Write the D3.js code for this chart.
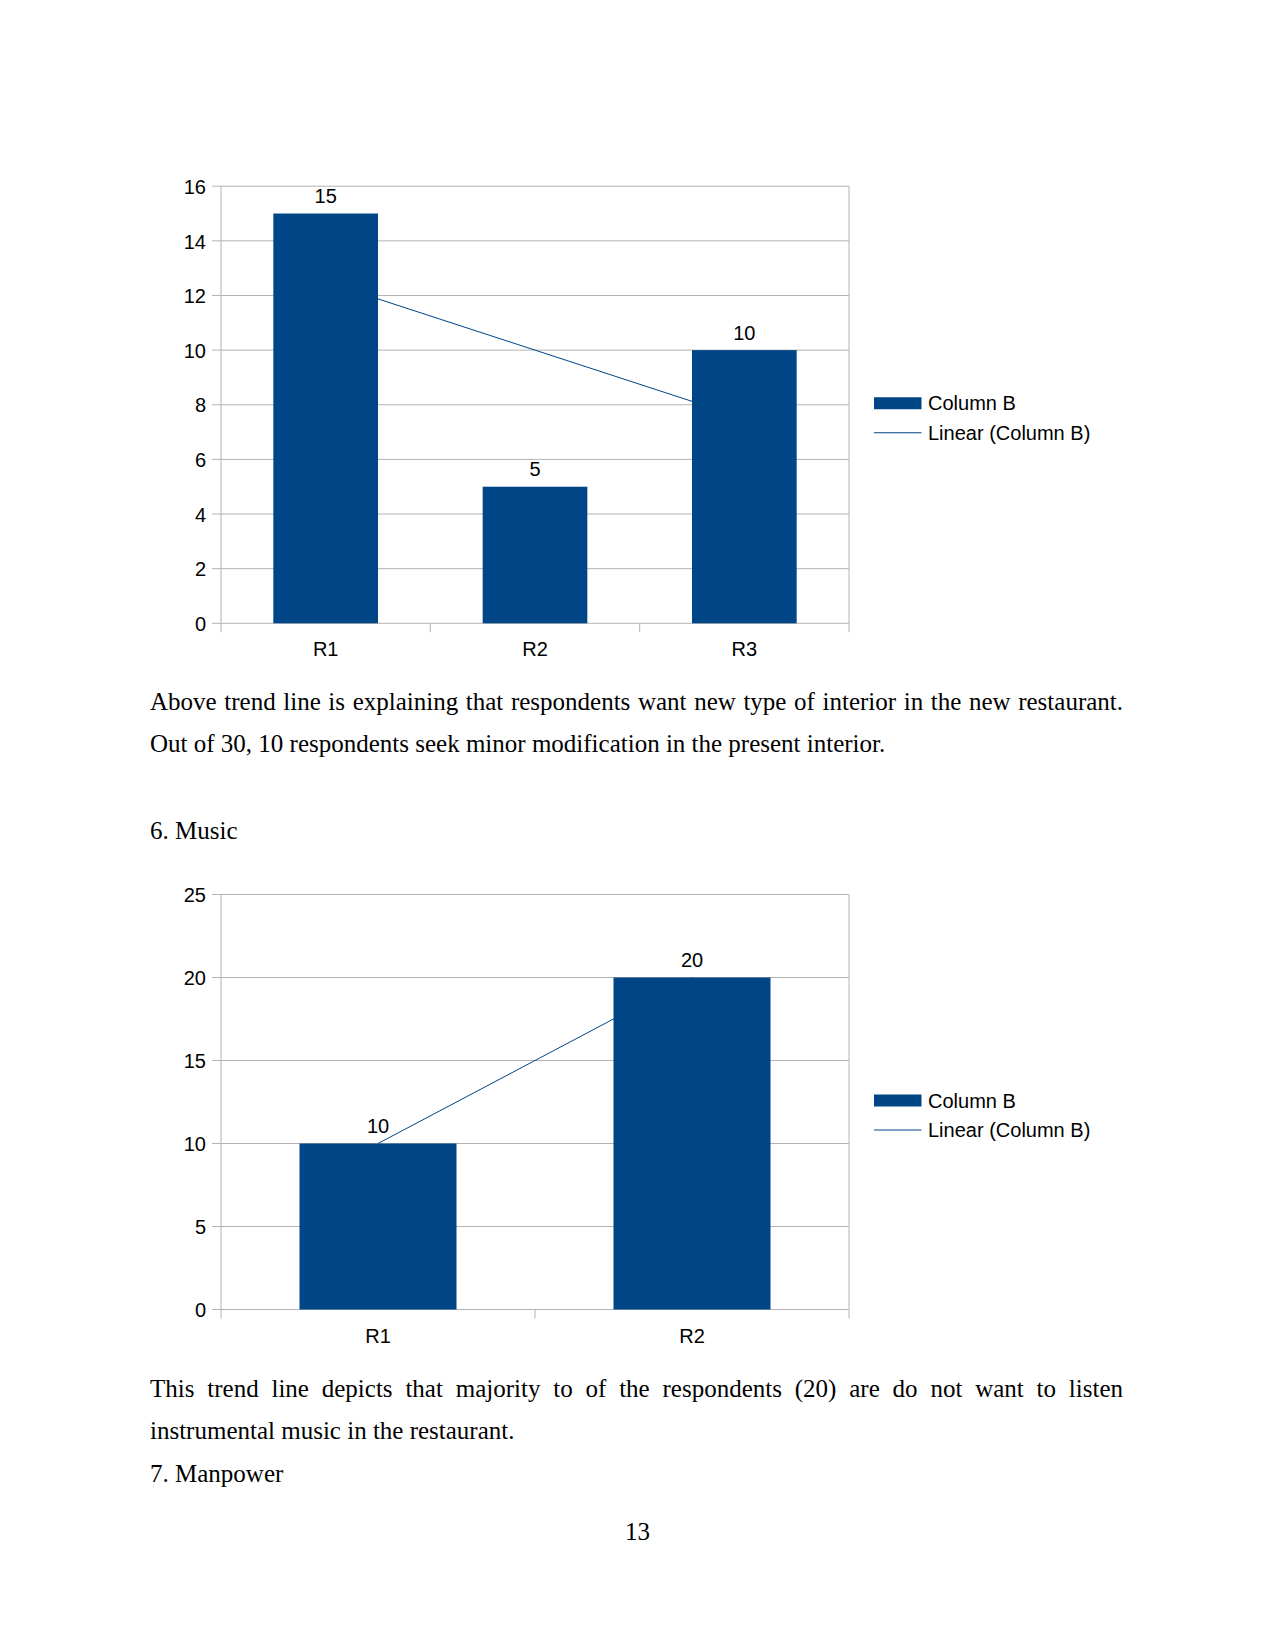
<!DOCTYPE html>
<html><head><meta charset="utf-8">
<script src="https://cdn.jsdelivr.net/npm/d3@7"></script>
<style>body{margin:0;background:#fff}</style>
</head><body>
<svg id="page" width="1275" height="1650"></svg>
<script>
// ---- data ----
const chart1Categories = ["R1", "R2", "R3"];
const chart1Values = [15, 5, 10];
const chart1Ticks = [0, 2, 4, 6, 8, 10, 12, 14, 16];
const chart2Categories = ["R1", "R2"];
const chart2Values = [10, 20];
const chart2Ticks = [0, 5, 10, 15, 20, 25];
const seriesName = "Column B";
const trendName = "Linear (Column B)";
const textLines = [
  {t: "Above trend line is explaining that respondents want new type of interior in the new restaurant.", y: 709.5, justify: true},
  {t: "Out of 30, 10 respondents seek minor modification in the present interior.", y: 751.5},
  {t: "6. Music", y: 839},
  {t: "This trend line depicts that majority to of the respondents (20) are do not want to listen", y: 1396.5, justify: true},
  {t: "instrumental music in the restaurant.", y: 1439},
  {t: "7. Manpower", y: 1481.7}
];
const pageNumber = "13";

// ---- style ----
const BLUE = "#004586", GRID = "#b3b3b3";
const SANS = "'Liberation Sans', Arial, sans-serif";
const SERIF = "'Liberation Serif', 'Times New Roman', serif";
const svg = d3.select("#page");

function drawChart(cats, vals, ticks, top, bottom) {
  const left = 221, right = 849, tick = 9;
  const g = svg.append("g");
  const x = d3.scaleBand().domain(cats).range([left, right]).paddingInner(0.5).paddingOuter(0.25);
  const y = d3.scaleLinear().domain([0, d3.max(ticks)]).range([bottom, top]);
  const step = x.step();
  const bounds = d3.range(cats.length + 1).map(i => left + i * step);

  // gridlines (extending left as ticks)
  g.selectAll(".grid").data(ticks).join("line")
    .attr("x1", left - tick).attr("x2", right)
    .attr("y1", d => y(d)).attr("y2", d => y(d))
    .attr("stroke", GRID).attr("stroke-width", 1);
  // category boundary ticks and vertical walls
  g.selectAll(".xt").data(bounds).join("line")
    .attr("x1", d => d).attr("x2", d => d)
    .attr("y1", (d, i) => (i === 0 || i === bounds.length - 1) ? top : bottom)
    .attr("y2", bottom + tick)
    .attr("stroke", GRID).attr("stroke-width", 1);

  // trend line (linear regression) behind bars
  const n = vals.length, xs = d3.range(1, n + 1);
  const mx = d3.mean(xs), my = d3.mean(vals);
  const slope = d3.sum(xs, (xi, i) => (xi - mx) * (vals[i] - my)) / d3.sum(xs, xi => (xi - mx) ** 2);
  const icpt = my - slope * mx;
  const cx = c => x(c) + x.bandwidth() / 2;
  g.append("line")
    .attr("x1", cx(cats[0])).attr("y1", y(icpt + slope * 1))
    .attr("x2", cx(cats[n - 1])).attr("y2", y(icpt + slope * n))
    .attr("stroke", BLUE).attr("stroke-width", 1);

  // bars
  g.selectAll(".bar").data(vals).join("rect")
    .attr("x", (d, i) => x(cats[i])).attr("width", x.bandwidth())
    .attr("y", d => y(d)).attr("height", d => y(0) - y(d))
    .attr("fill", BLUE);

  // data labels
  g.selectAll(".dl").data(vals).join("text")
    .attr("x", (d, i) => cx(cats[i])).attr("y", d => y(d) - 10.5)
    .attr("text-anchor", "middle").attr("font-family", SANS).attr("font-size", 20)
    .attr("fill", "#000").text(d => d);

  // y axis labels
  const ya = d3.axisLeft(y).tickValues(ticks).tickSize(0).tickPadding(left - 206);
  const yg = g.append("g").attr("transform", `translate(${left},0)`).call(ya);
  yg.select(".domain").remove();
  yg.selectAll("text").attr("font-family", SANS).attr("font-size", 20).attr("fill", "#000").attr("dy", "0.36em");

  // x axis labels
  const xa = d3.axisBottom(x).tickSize(0).tickPadding(0);
  const xg = g.append("g").attr("transform", `translate(0,${bottom})`).call(xa);
  xg.select(".domain").remove();
  xg.selectAll("text").attr("font-family", SANS).attr("font-size", 20).attr("fill", "#000")
    .attr("dy", null).attr("y", 33);

  // legend
  const mid = (top + bottom) / 2;
  const r1 = mid - 1.5, r2 = mid + 28;
  const lg = g.append("g");
  lg.append("rect").attr("x", 874).attr("y", r1 - 6).attr("width", 47.5).attr("height", 12).attr("fill", BLUE);
  lg.append("line").attr("x1", 874).attr("x2", 921.5).attr("y1", r2).attr("y2", r2).attr("stroke", BLUE).attr("stroke-width", 1);
  lg.append("text").attr("x", 928).attr("y", r1 + 7).attr("font-family", SANS).attr("font-size", 20).text(seriesName);
  lg.append("text").attr("x", 928).attr("y", r2 + 7).attr("font-family", SANS).attr("font-size", 20).text(trendName);
}

drawChart(chart1Categories, chart1Values, chart1Ticks, 186.2, 623.3);
drawChart(chart2Categories, chart2Values, chart2Ticks, 894.5, 1309.5);

// body text
const FS = 25, TL = 150, TW = 973;
textLines.forEach(l => {
  const t = svg.append("text").attr("x", TL).attr("y", l.y)
    .attr("font-family", SERIF).attr("font-size", FS).attr("fill", "#000").text(l.t);
  if (l.justify) {
    const w = t.node().getComputedTextLength();
    const spaces = (l.t.match(/ /g) || []).length;
    t.attr("word-spacing", (TW - w) / spaces);
  }
});
svg.append("text").attr("x", 637.5).attr("y", 1540).attr("text-anchor", "middle")
  .attr("font-family", SERIF).attr("font-size", FS).text(pageNumber);
</script>
</body></html>
